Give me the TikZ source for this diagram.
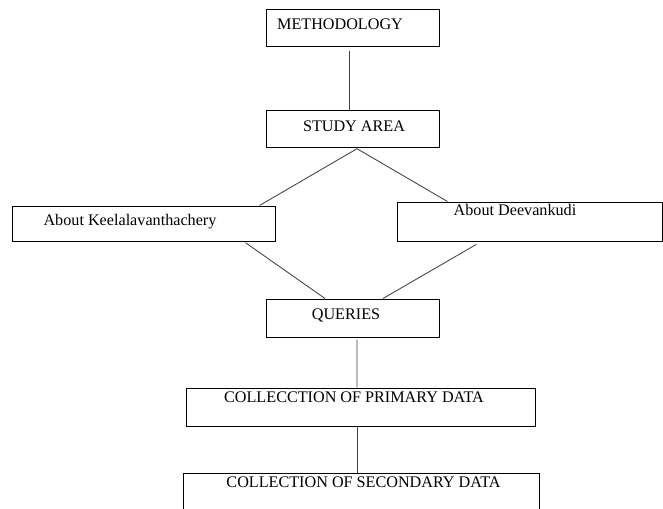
\documentclass[tikz,border=0pt]{standalone}
\usepackage{fontspec}
\setmainfont{Liberation Serif}

\begin{document}
\begin{tikzpicture}[x=0.025cm,y=-0.025cm,
	box/.style={draw,line width=0.7pt,inner sep=0pt},
	lbl/.style={inner sep=0pt,font=\fontsize{11.5}{13}\selectfont},
	con/.style={draw=black!75,line width=0.6pt}]
	\useasboundingbox (0,0) rectangle (663,508);
	\clip (0,0) rectangle (663,508);
	% boxes
	\node[box,minimum width=4.3cm,minimum height=0.925cm] (meth) at (353,27.5) {};
	\node[box,minimum width=4.3cm,minimum height=0.925cm] (study) at (353,128.5) {};
	\node[box,minimum width=6.55cm,minimum height=0.875cm] (keel) at (144,223.5) {};
	\node[box,minimum width=6.6cm,minimum height=0.975cm] (deev) at (530,221.5) {};
	\node[box,minimum width=4.3cm,minimum height=0.95cm] (quer) at (353,318) {};
	\node[box,minimum width=8.7cm,minimum height=0.95cm] (prim) at (361,407) {};
	\node[box,minimum width=8.875cm,minimum height=1.85cm] (sec) at (361.5,510) {};
	% texts
	\node[lbl] (methtxt) at (340,24) {METHODOLOGY};
	\node[lbl] (studytxt) at (354,126) {STUDY AREA};
	\node[lbl] (keeltxt) at (130,222) {About Keelalavanthachery};
	\node[lbl] (deevtxt) at (515,210) {About Deevankudi};
	\node[lbl] (quertxt) at (346,315) {QUERIES};
	\node[lbl] (primtxt) at (354,397) {COLLECCTION OF PRIMARY DATA};
	\node[lbl] (sectxt) at (363.5,482) {COLLECTION OF SECONDARY DATA};
	% connectors
	\coordinate (peak) at ([xshift=0.1cm,yshift=-0.03cm]study.south);
	\draw[con] ([xshift=-0.1cm,yshift=-0.1cm]meth.south) -- ([xshift=-0.1cm]study.north);
	\draw[con] (peak) -- ([xshift=-0.4cm]keel.north east);
	\draw[con] (peak) -- ([xshift=1.25cm]deev.north west);
	\draw[con] ([xshift=-0.75cm,yshift=-0.03cm]keel.south east) -- ([xshift=-0.7cm]quer.north);
	\draw[con] ([xshift=1.975cm,yshift=-0.07cm]deev.south west) -- ([xshift=0.75cm]quer.north);
	\draw[con] ([xshift=0.1cm,yshift=-0.05cm]quer.south) -- ([xshift=-0.1cm]prim.north);
	\draw[con] ([xshift=-0.1cm]prim.south) -- ([xshift=-0.1cm]prim.south |- sec.north);
\end{tikzpicture}
\end{document}
